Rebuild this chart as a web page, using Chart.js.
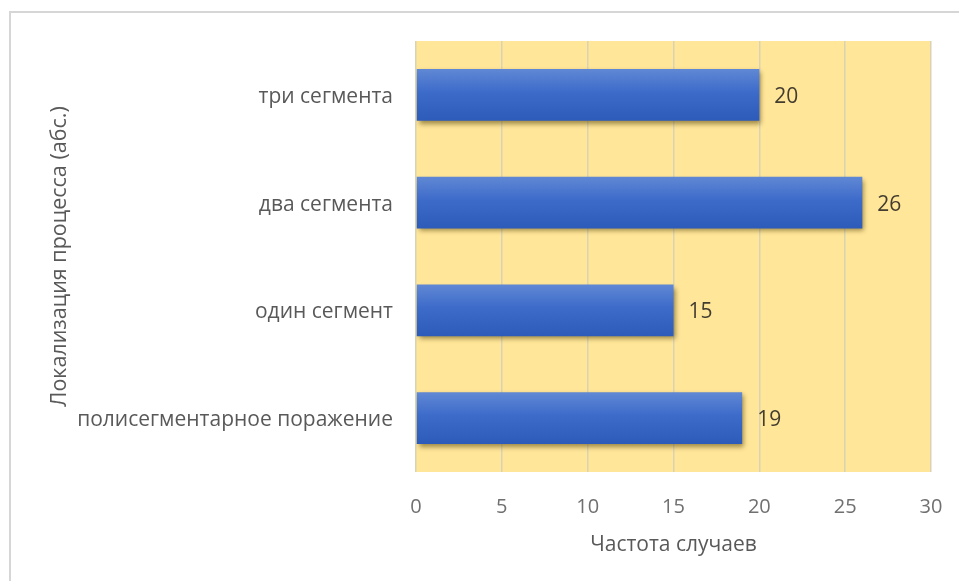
<!DOCTYPE html>
<html>
<head>
<meta charset="utf-8">
<script src="https://cdn.jsdelivr.net/npm/chart.js@4"></script>
<style>
  html, body { margin: 0; padding: 0; background: #fff; overflow: hidden; }
  #frame {
    position: absolute; left: 9px; top: 11px; width: 1000px; height: 1000px;
    border-top: 2px solid #d6d6d6; border-left: 2px solid #d6d6d6;
  }
  #wrap { position: absolute; left: 0; top: 0; width: 959px; height: 581px; }
</style>
</head>
<body>
<div id="frame"></div>
<div id="wrap"><canvas id="barChart" width="959" height="581"></canvas></div>
<script>
const categories = ["три сегмента", "два сегмента", "один сегмент", "полисегментарное поражение"];
const cases = [20, 26, 15, 19];
const xTicks = [0, 5, 10, 15, 20, 25, 30];
const xTitle = "Частота случаев";
const yTitle = "Локализация процесса (абс.)";

const FONT = "'Open Sans', 'DejaVu Sans', sans-serif";
const BAR_SHARE = 0.48;

// yellow plot background
const plotFill = {
  id: "plotFill",
  beforeDraw(chart) {
    const { ctx, chartArea: a } = chart;
    ctx.save();
    ctx.fillStyle = "#ffe699";
    ctx.fillRect(a.left, a.top, a.right - a.left, a.bottom - a.top);
    ctx.restore();
  }
};

// soft drop shadow under the bars
const barShadow = {
  id: "barShadow",
  beforeDatasetsDraw(chart) {
    const ctx = chart.ctx;
    ctx.save();
    ctx.shadowColor = "rgba(90, 70, 10, 0.6)";
    ctx.shadowBlur = 5;
    ctx.shadowOffsetX = 2;
    ctx.shadowOffsetY = 3;
  },
  afterDatasetsDraw(chart) {
    chart.ctx.restore();
  }
};

// value at the end of each bar
const valueLabels = {
  id: "valueLabels",
  afterDatasetsDraw(chart) {
    const { ctx } = chart;
    const meta = chart.getDatasetMeta(0);
    ctx.save();
    ctx.font = "21px " + FONT;
    ctx.fillStyle = "#433d30";
    ctx.textAlign = "left";
    ctx.textBaseline = "middle";
    meta.data.forEach((bar, i) => {
      ctx.fillText(String(cases[i]), bar.x + 15, bar.y + 2);
    });
    ctx.restore();
  }
};

function barGradient(context) {
  const chart = context.chart;
  const y = chart.scales.y;
  if (!chart.chartArea || !y) return "#3b69c8";
  const c = y.getPixelForValue(context.dataIndex);
  const half = (y.height / categories.length) * BAR_SHARE / 2;
  const g = chart.ctx.createLinearGradient(0, c - half, 0, c + half);
  g.addColorStop(0, "#6088d4");
  g.addColorStop(0.45, "#3d6bca");
  g.addColorStop(1, "#2d5bba");
  return g;
}

const ctx = document.getElementById("barChart").getContext("2d");
new Chart(ctx, {
  type: "bar",
  data: {
    labels: categories,
    datasets: [{
      data: cases,
      backgroundColor: barGradient,
      borderWidth: 0,
      barPercentage: BAR_SHARE,
      categoryPercentage: 1
    }]
  },
  options: {
    indexAxis: "y",
    responsive: false,
    animation: false,
    layout: { padding: { top: 41, right: 28, bottom: 14, left: 0 } },
    plugins: { legend: { display: false }, tooltip: { enabled: false } },
    scales: {
      x: {
        min: 0, max: 30,
        afterBuildTicks(scale) { scale.ticks = xTicks.map(v => ({ value: v })); },
        afterFit(scale) {
          scale.height = 581 - 472 - 14;
          scale.paddingLeft = 0;
          scale.paddingRight = 0;
        },
        grid: { color: "#d9d2b4", lineWidth: 1.5, drawTicks: false },
        border: { display: false },
        ticks: { color: "#707070", padding: 23, font: { family: FONT, size: 20 } },
        title: {
          display: true, text: xTitle, color: "#595959",
          font: { family: FONT, size: 21 }, padding: { top: 0, bottom: 9 }
        }
      },
      y: {
        afterFit(scale) { scale.width = 416; },
        grid: { display: false, drawTicks: false },
        border: { display: false },
        ticks: { color: "#595959", padding: 23, labelOffset: 2, font: { family: FONT, size: 21 } },
        title: {
          display: true, text: yTitle, color: "#595959",
          font: { family: FONT, size: 21.5 }, padding: { top: 47, bottom: 0 }
        }
      }
    }
  },
  plugins: [plotFill, barShadow, valueLabels]
});
</script>
</body>
</html>
